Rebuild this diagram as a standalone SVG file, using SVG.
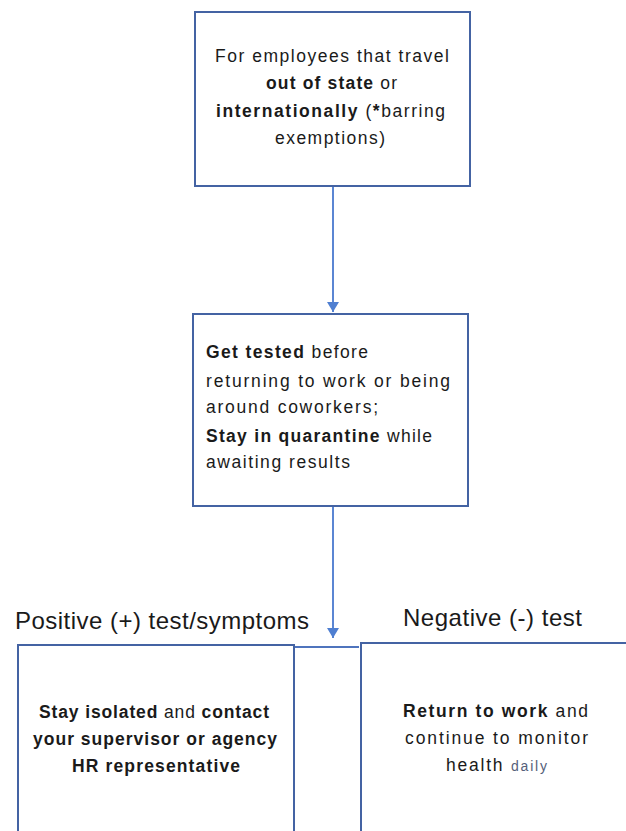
<svg xmlns="http://www.w3.org/2000/svg" width="626" height="831" viewBox="0 0 626 831">
  <style>
    .box { fill: #ffffff; stroke: #4463a3; stroke-width: 2; }
    .t { font-family: "Liberation Sans", Arial, sans-serif; font-size: 17.5px; fill: #1a1a1a; }
    .b { font-weight: bold; }
    .lbl { font-family: "Liberation Sans", Arial, sans-serif; font-size: 24px; fill: #1a1a1a; }
    .conn { stroke: #5b86d3; stroke-width: 2; fill: none; }
    .hl { stroke: #4f74bd; stroke-width: 2; fill: none; }
  </style>
  <defs>
    <marker id="arr" markerUnits="userSpaceOnUse" markerWidth="14" markerHeight="12" refX="10" refY="6" orient="auto">
      <path d="M0,0 L10,6 L0,12 Z" fill="#4f7fd1"/>
    </marker>
  </defs>
  <rect width="626" height="831" fill="#ffffff"/>

  <g id="connectors">
    <line class="conn" x1="333" y1="186" x2="333" y2="312" marker-end="url(#arr)"/>
    <line class="conn" x1="333" y1="506" x2="333" y2="638" marker-end="url(#arr)"/>
    <line class="hl" x1="294" y1="647" x2="359" y2="647"/>
  </g>

  <g id="node-travel">
    <rect class="box" x="195" y="12" width="275" height="174"/>
    <text class="t" x="215" y="62" textLength="234" lengthAdjust="spacing">For employees that travel</text>
    <text class="t" x="266" y="89" textLength="131" lengthAdjust="spacing"><tspan class="b">out of state</tspan> or</text>
    <text class="t" x="216" y="117" textLength="229" lengthAdjust="spacing"><tspan class="b">internationally</tspan>  (<tspan class="b">*</tspan>barring</text>
    <text class="t" x="275" y="144" textLength="110" lengthAdjust="spacing">exemptions)</text>
  </g>

  <g id="node-test">
    <rect class="box" x="193" y="314" width="275" height="192"/>
    <text class="t" x="206" y="358" textLength="162" lengthAdjust="spacing"><tspan class="b">Get tested</tspan> before</text>
    <text class="t" x="206" y="387" textLength="244" lengthAdjust="spacing">returning to work or being</text>
    <text class="t" x="206" y="413" textLength="172" lengthAdjust="spacing">around coworkers;</text>
    <text class="t" x="206" y="442" textLength="226" lengthAdjust="spacing"><tspan class="b">Stay in quarantine</tspan> while</text>
    <text class="t" x="206" y="468" textLength="144" lengthAdjust="spacing">awaiting results</text>
  </g>

  <g id="label-positive">
    <text class="lbl" x="15" y="629" textLength="294" lengthAdjust="spacing">Positive (+) test/symptoms</text>
  </g>
  <g id="label-negative">
    <text class="lbl" x="403" y="626" textLength="179" lengthAdjust="spacing">Negative (-) test</text>
  </g>

  <g id="node-positive">
    <rect class="box" x="18" y="645" width="276" height="200"/>
    <text class="t b" x="39" y="718" textLength="230" lengthAdjust="spacing">Stay isolated  <tspan font-weight="normal">and</tspan> contact</text>
    <text class="t b" x="33" y="745" textLength="244" lengthAdjust="spacing">your supervisor or agency</text>
    <text class="t b" x="72" y="772" textLength="168" lengthAdjust="spacing">HR representative</text>
  </g>

  <g id="node-negative">
    <rect class="box" x="361" y="643" width="280" height="200"/>
    <text class="t" x="403" y="717" textLength="185" lengthAdjust="spacing"><tspan class="b">Return to work</tspan> and</text>
    <text class="t" x="405" y="744" textLength="183" lengthAdjust="spacing">continue to monitor</text>
    <text class="t" x="446" y="771" textLength="101" lengthAdjust="spacing">health <tspan font-size="14" fill="#55607a">daily</tspan></text>
  </g>
</svg>
